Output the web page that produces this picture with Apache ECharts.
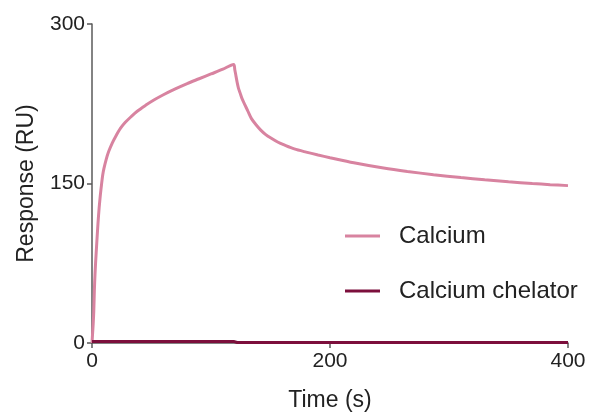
<!DOCTYPE html>
<html>
<head>
<meta charset="utf-8">
<script src="https://cdn.jsdelivr.net/npm/echarts@6/dist/echarts.min.js"></script>
<style>
html,body{margin:0;padding:0;background:#fff;}
#chart{width:595px;height:419px;}
</style>
</head>
<body>
<div id="chart"></div>
<script>
var calciumTime = [0, 0.5, 1, 1.5, 2, 2.5, 3, 4, 5, 6, 7, 8, 9, 10, 12, 14, 17, 20, 24, 28, 33, 38, 45, 52, 60, 70, 80, 90, 100, 110, 119,
  120, 121, 122, 123, 124.5, 126, 128.5, 131, 134, 138, 142, 146, 150, 156, 162, 170, 180, 190, 200, 220, 245, 265, 287, 310, 330, 350, 370, 385, 400];
var calciumValues = [0, 9, 18, 30, 50, 64, 75, 94, 112, 127, 139, 149, 158, 164, 173, 180, 188, 194.5, 202, 207.5, 213, 218, 223.5, 228.5, 233.5, 239, 244, 248.5, 253, 257.5, 262,
  257, 251, 245, 240, 235, 230, 224, 218, 211, 205, 200, 196, 193, 189, 186, 182.5, 179.5, 176.8, 174.3, 169.5, 164.5, 161.3, 158.3, 155.6, 153.5, 151.6, 150, 148.9, 148];
var chelatorTime = [0, 60, 119, 122, 200, 300, 400];
var chelatorValues = [1.5, 1.5, 1.5, 0.5, 0.5, 0.5, 0.5];
var seriesNames = ['Calcium', 'Calcium chelator'];
var xTicks = [0, 200, 400];
var yTicks = [0, 150, 300];

function pairs(t, v) { return t.map(function (x, i) { return [x, v[i]]; }); }

var font = 'Liberation Sans, Arial, Helvetica, sans-serif';
var axisColor = '#5a5a5a';
var chart = echarts.init(document.getElementById('chart'), null, {renderer: 'canvas'});
chart.setOption({
  animation: false,
  backgroundColor: '#ffffff',
  grid: {left: 92, right: 27, top: 24, bottom: 76, containLabel: false},
  legend: {
    orient: 'vertical',
    left: 340,
    top: 216,
    itemWidth: 35,
    itemHeight: 3,
    itemGap: 25,
    icon: 'rect',
    data: seriesNames,
    textStyle: {fontFamily: font, fontSize: 24, color: '#222', lineHeight: 30, padding: [0, 0, 0, 14]}
  },
  xAxis: {
    type: 'value',
    min: xTicks[0], max: xTicks[xTicks.length - 1], interval: xTicks[1] - xTicks[0],
    name: 'Time (s)',
    nameLocation: 'middle',
    nameGap: 46,
    nameTextStyle: {fontFamily: font, fontSize: 23, color: '#222'},
    axisLine: {show: true, lineStyle: {color: axisColor, width: 1.5}},
    axisTick: {show: true, inside: false, length: 5, lineStyle: {color: axisColor, width: 1.5}},
    axisLabel: {fontFamily: font, fontSize: 21, color: '#222', margin: 8},
    splitLine: {show: false}
  },
  yAxis: {
    type: 'value',
    min: yTicks[0], max: yTicks[yTicks.length - 1], interval: yTicks[1] - yTicks[0],
    name: 'Response (RU)',
    nameLocation: 'middle',
    nameGap: 54,
    nameTextStyle: {fontFamily: font, fontSize: 23, color: '#222'},
    axisLine: {show: true, lineStyle: {color: axisColor, width: 1.5}},
    axisTick: {show: true, inside: false, length: 5, lineStyle: {color: axisColor, width: 1.5}},
    axisLabel: {fontFamily: font, fontSize: 21, color: '#222', margin: 7},
    splitLine: {show: false}
  },
  series: [
    {
      name: seriesNames[0], type: 'line', data: pairs(calciumTime, calciumValues),
      symbol: 'none', showSymbol: false, smooth: 0.3,
      lineStyle: {color: '#d883a0', width: 3},
      itemStyle: {color: '#d883a0'}
    },
    {
      name: seriesNames[1], type: 'line', data: pairs(chelatorTime, chelatorValues),
      symbol: 'none', showSymbol: false, smooth: false,
      lineStyle: {color: '#7c0f3c', width: 3},
      itemStyle: {color: '#7c0f3c'}
    }
  ]
});
</script>
</body>
</html>
